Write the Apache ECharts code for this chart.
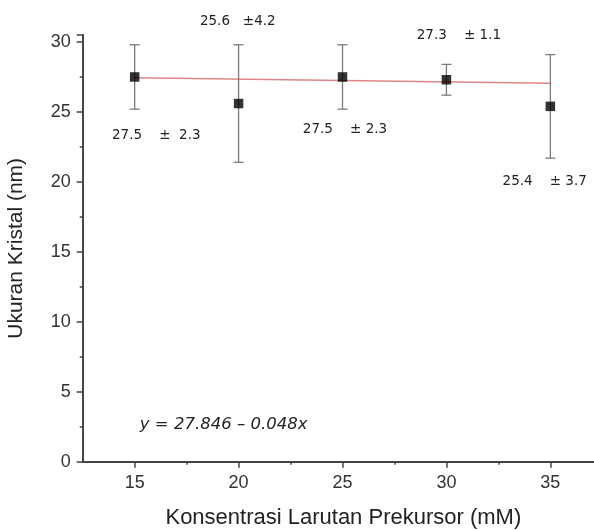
<!DOCTYPE html>
<html>
<head>
<meta charset="utf-8">
<script src="https://cdn.jsdelivr.net/npm/echarts@6/dist/echarts.min.js"></script>
<style>html,body{margin:0;padding:0;background:#fff}#c{width:594px;height:530px}</style>
</head>
<body>
<div id="c"></div>
<script>
// ---- data ----
var concentrations = [15, 20, 25, 30, 35];
var crystalSize = [27.5, 25.6, 27.5, 27.3, 25.4];
var sizeError = [2.3, 4.2, 2.3, 1.1, 3.7];
var fitX = [15, 35];
var fitY = [27.45, 27.05];
var xMajorTicks = [15, 20, 25, 30, 35];
var xMinorTicks = [17.5, 22.5, 27.5, 32.5];
var annoText = ['27.5    \u00b1  2.3', '25.6   \u00b14.2', '27.5    \u00b1 2.3', '27.3    \u00b1 1.1', '25.4    \u00b1 3.7'];
var annoX = [13.91, 18.14, 23.09, 28.57, 32.70];
var annoY = [23.35, 31.43, 23.71, 30.5, 20.0];
var equationText = 'y = 27.846 \u2013 0.048x';
var equationAt = [15.25, 2.62];

var chart = echarts.init(document.getElementById('c'));
var axisColor = '#444';
var labelFont = {fontFamily: 'Liberation Sans', fontSize: 18, color: '#333'};

var points = concentrations.map(function (x, i) { return [x, crystalSize[i]]; });
var errData = concentrations.map(function (x, i) { return [x, crystalSize[i] - sizeError[i], crystalSize[i] + sizeError[i]]; });
var fitData = fitX.map(function (x, i) { return [x, fitY[i]]; });
var annoData = annoX.map(function (x, i) { return [x, annoY[i]]; });

chart.setOption({
  animation: false,
  grid: {left: 82.7, right: 0, top: 35, bottom: 68.3, containLabel: false, outerBoundsMode: 'none'},
  xAxis: [{
    type: 'value', min: 12.5, max: 37.1,
    splitLine: {show: false},
    axisLine: {lineStyle: {color: axisColor, width: 2}},
    axisTick: {show: true, length: 6, customValues: xMajorTicks, lineStyle: {color: axisColor, width: 1.5}},
    axisLabel: Object.assign({customValues: xMajorTicks, margin: 12}, labelFont),
    name: 'Konsentrasi Larutan Prekursor (mM)', nameLocation: 'middle', nameGap: 45,
    nameTextStyle: {fontFamily: 'Liberation Sans', fontSize: 22, color: '#222', padding: [0, 0, 0, 10]}
  }, {
    type: 'value', min: 12.5, max: 37.1, position: 'bottom',
    splitLine: {show: false},
    axisLine: {show: false},
    axisTick: {show: true, length: 3, customValues: xMinorTicks, lineStyle: {color: axisColor, width: 1.5}},
    axisLabel: {show: false}
  }],
  yAxis: {
    type: 'value', min: 0, max: 30.5, interval: 5,
    splitLine: {show: false},
    axisLine: {show: true, lineStyle: {color: axisColor, width: 2}},
    axisTick: {show: true, length: 6, lineStyle: {color: axisColor, width: 1.5}},
    minorTick: {show: true, splitNumber: 2, length: 3, lineStyle: {color: axisColor, width: 1.5}},
    axisLabel: Object.assign({margin: 12, formatter: function (v) { return v % 5 === 0 ? String(v) : ''; }}, labelFont),
    name: 'Ukuran Kristal (nm)', nameLocation: 'middle', nameGap: 56,
    nameTextStyle: {fontFamily: 'Liberation Sans', fontSize: 21, color: '#222', padding: [0, 0, 0, 0]}
  },
  series: [{
    type: 'line', data: fitData, symbol: 'none',
    lineStyle: {color: '#e08585', width: 1.5}, z: 2
  }, {
    type: 'custom', data: errData, z: 3,
    renderItem: function (params, api) {
      var x = api.value(0);
      var lo = api.coord([x, api.value(1)]);
      var hi = api.coord([x, api.value(2)]);
      var w = 5;
      var st = {stroke: '#7a7a7a', lineWidth: 1.3};
      return {type: 'group', children: [
        {type: 'line', shape: {x1: lo[0], y1: lo[1], x2: hi[0], y2: hi[1]}, style: st},
        {type: 'line', shape: {x1: lo[0] - w, y1: lo[1], x2: lo[0] + w, y2: lo[1]}, style: st},
        {type: 'line', shape: {x1: hi[0] - w, y1: hi[1], x2: hi[0] + w, y2: hi[1]}, style: st}
      ]};
    }
  }, {
    type: 'scatter', data: points, symbol: 'rect', symbolSize: 9.5,
    itemStyle: {color: '#000'}, z: 4
  }, {
    type: 'custom', data: annoData, z: 5, clip: false,
    renderItem: function (params, api) {
      var p = api.coord([api.value(0), api.value(1)]);
      return {type: 'text', x: p[0], y: p[1], style: {
        text: annoText[params.dataIndex], align: 'left', verticalAlign: 'middle',
        fontFamily: 'DejaVu Sans', fontSize: 13.5, fill: '#222'
      }};
    }
  }, {
    type: 'custom', data: [equationAt], z: 5, clip: false,
    renderItem: function (params, api) {
      var p = api.coord([api.value(0), api.value(1)]);
      return {type: 'text', x: p[0], y: p[1], style: {
        text: equationText, align: 'left', verticalAlign: 'middle',
        fontFamily: 'DejaVu Sans', fontStyle: 'italic', fontSize: 16.5, fill: '#222'
      }};
    }
  }]
});
</script>
</body>
</html>
